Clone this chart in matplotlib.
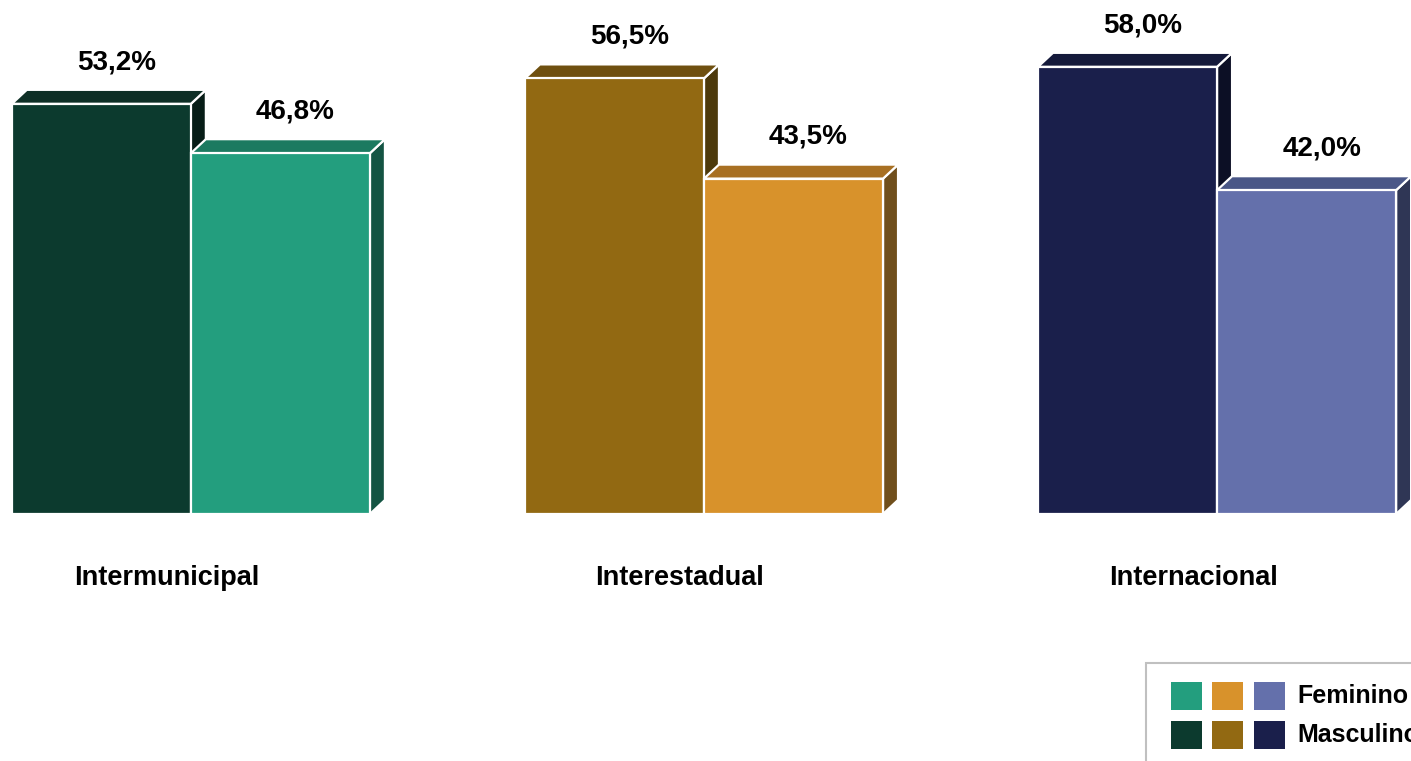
import numpy as np
import matplotlib.pyplot as plt
from matplotlib.patches import Polygon, Rectangle

plt.rcParams['font.family'] = ['Liberation Sans', 'DejaVu Sans']

categories = ['Intermunicipal', 'Interestadual', 'Internacional']
masculino = [53.2, 56.5, 58.0]
feminino = [46.8, 43.5, 42.0]

# front / top / side shades per category
masc_colors = [('#0c3a2e', '#0e2f26', '#071d17'),
               ('#926912', '#6f5010', '#4d3a0c'),
               ('#1a1f4b', '#151a3b', '#0c0f25')]
fem_colors = [('#239e7e', '#1c7a60', '#145443'),
              ('#d8922b', '#a87023', '#704f1c'),
              ('#6470ab', '#4a5787', '#2f3655')]

W, H = 1411, 761
fig = plt.figure(figsize=(W / 100, H / 100), dpi=100)
ax = fig.add_axes([0, 0, 1, 1])
ax.set_xlim(-0.372, 2.378)
ax.set_ylim(-32.04, 66.67)
ax.axis('off')

width = 0.349
dx = 15 / 513          # depth offset in x units
dy = 14 / 7.71         # depth offset in y units


def bar3d(x0, h, cols):
    front, top, side = cols
    ec = 'white'
    ax.add_patch(Polygon([(x0, 0), (x0 + width, 0), (x0 + width, h), (x0, h)],
                         closed=True, fc=front, ec=ec, lw=1.6, zorder=3))
    ax.add_patch(Polygon([(x0, h), (x0 + width, h), (x0 + width + dx, h + dy), (x0 + dx, h + dy)],
                         closed=True, fc=top, ec=ec, lw=1.6, zorder=2))
    ax.add_patch(Polygon([(x0 + width, 0), (x0 + width + dx, dy), (x0 + width + dx, h + dy), (x0 + width, h)],
                         closed=True, fc=side, ec=ec, lw=1.6, zorder=1))
    ax.text(x0 + width / 2 + dx, h + dy + 3.6, f'{h:.1f}%'.replace('.', ','),
            ha='center', va='center', fontsize=20, fontweight='bold')


for i, cat in enumerate(categories):
    bar3d(i - width, masculino[i], masc_colors[i])
    bar3d(i, feminino[i], fem_colors[i])
    ax.text(i - 24 / 513, -8.3, cat, ha='center', va='center',
            fontsize=19.5, fontweight='bold')

# legend drawn in figure pixels
def px(x, y):
    return x / W, 1 - y / H

tf = fig.transFigure
fig.add_artist(Rectangle(px(1146, 800), (W + 10 - 1146) / W, (800 - 663) / H,
                         transform=tf, fc='white', ec='#c0c0c0', lw=1.5))
sq_x = [1171, 1212, 1254]
rows = [('Feminino', fem_colors, 682), ('Masculino', masc_colors, 721)]
for label, cols, y in rows:
    for sx, c in zip(sq_x, cols):
        fig.add_artist(Rectangle(px(sx, y + 28), 31 / W, 28 / H, transform=tf,
                                 fc=c[0], ec='none'))
    fig.text(*px(1297, y + 14), label, ha='left', va='center',
             fontsize=18, fontweight='bold')

fig.savefig('out.png', dpi=100)
